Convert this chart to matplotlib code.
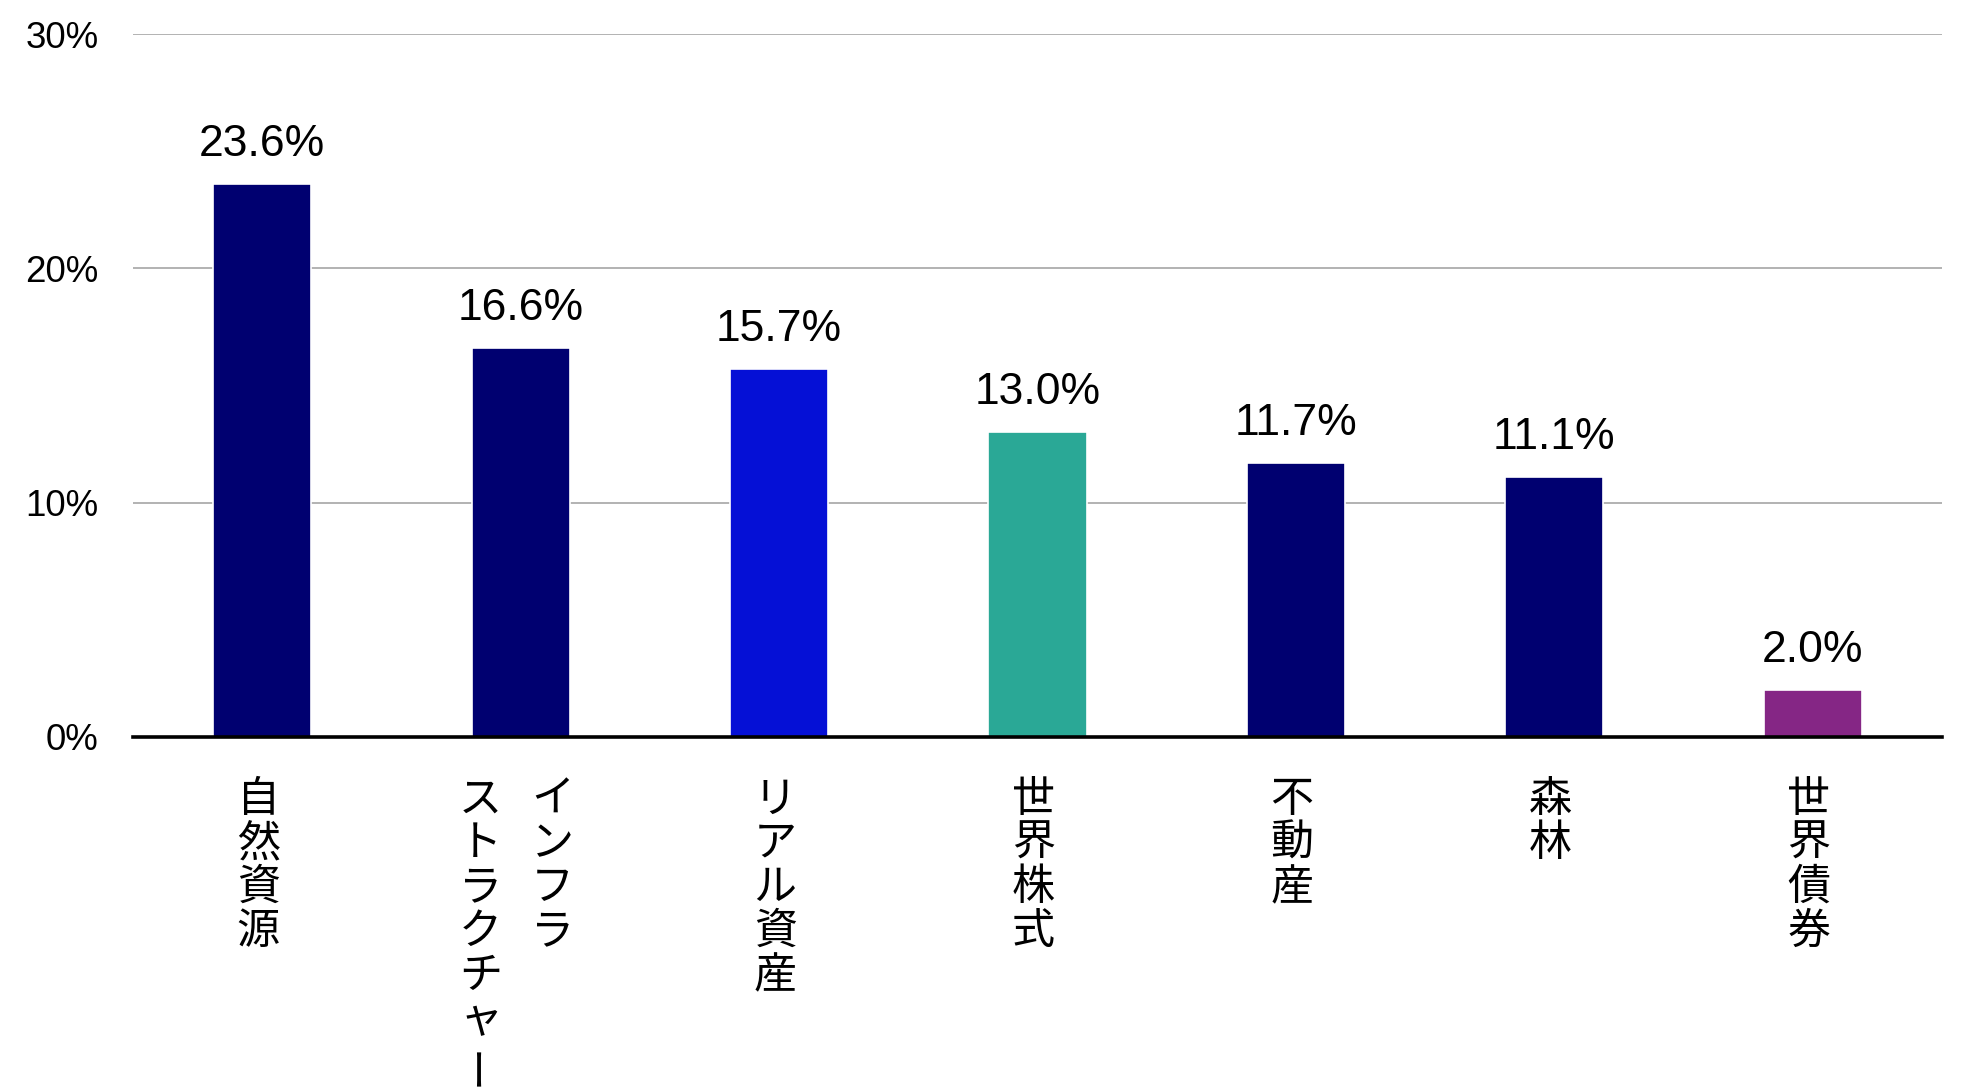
import matplotlib
matplotlib.use("Agg")
import matplotlib.pyplot as plt
from matplotlib.ticker import FuncFormatter

# ---- data ----
categories = ["自然資源", "インフラストラクチャー", "リアル資産", "世界株式", "不動産", "森林", "世界債券"]
# label columns (vertical writing, columns right-to-left)
label_columns = [["自然資源"], ["インフラ", "ストラクチャー"], ["リアル資産"], ["世界株式"],
                 ["不動産"], ["森林"], ["世界債券"]]
values = [23.6, 16.6, 15.7, 13.0, 11.7, 11.1, 2.0]
value_labels = ["23.6%", "16.6%", "15.7%", "13.0%", "11.7%", "11.1%", "2.0%"]
bar_colors = ["#000070", "#000070", "#0510D6", "#2AA896", "#000070", "#000070", "#852685"]
y_ticks = [0, 10, 20, 30]

DPI = 100
fig = plt.figure(figsize=(19.75, 10.90), dpi=DPI)
ax = fig.add_axes([133 / 1975, 1 - 737 / 1090, (1942 - 133) / 1975, (737 - 34) / 1090])

x = list(range(len(categories)))
ax.bar(x, values, width=0.38, color=bar_colors, edgecolor="white", linewidth=1.2, zorder=2)

ax.set_xlim(-0.5, len(categories) - 0.5)
ax.set_ylim(0, 30)
ax.set_yticks(y_ticks)
ax.yaxis.set_major_formatter(FuncFormatter(lambda v, p: f"{v:.0f}%"))
ax.tick_params(axis="y", length=0, pad=25, labelsize=26.5)
for lab in ax.get_yticklabels():
    lab.set_fontfamily(["Liberation Sans", "DejaVu Sans"])
ax.set_xticks([])

ax.grid(axis="y", color="#a6a6a6", linewidth=1.2, zorder=0)
ax.set_axisbelow(True)
for s in ["top", "right", "left", "bottom"]:
    ax.spines[s].set_visible(False)
ax.axhline(0, color="black", linewidth=2.6, zorder=3, clip_on=False)

px = 72.0 / DPI  # points per pixel

# value labels
for xi, v, lab in zip(x, values, value_labels):
    ax.annotate(lab, xy=(xi, v), xytext=(0, 28 * px), textcoords="offset points",
                ha="center", va="baseline", fontsize=32,
                fontfamily=["Liberation Sans", "DejaVu Sans"], color="black")

# vertical category labels
pitch = 44  # px between characters
first_center = 63  # px below axis
col_gap = 72  # px between columns
x_shift = -4  # px
for xi, cols in zip(x, label_columns):
    n = len(cols)
    for ci, col in enumerate(cols):
        # columns right-to-left
        dx = ((n - 1) / 2 - ci) * col_gap + x_shift
        for k, ch in enumerate(col):
            rot = 90 if ch == "ー" else 0
            ax.annotate(ch, xy=(xi, 0), xycoords="data",
                        xytext=(dx * px, -(first_center + k * pitch) * px),
                        textcoords="offset points", ha="center", va="center",
                        fontsize=31, rotation=rot,
                        fontfamily=["Noto Sans CJK JP", "DejaVu Sans"], color="black",
                        annotation_clip=False)

fig.savefig("out.png", dpi=DPI, facecolor="white")
